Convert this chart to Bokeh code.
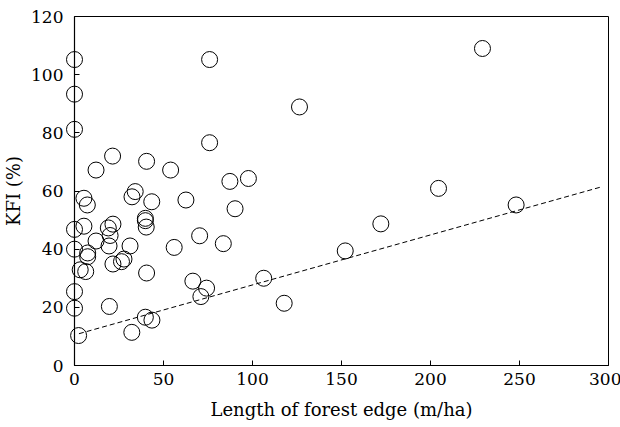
from bokeh.plotting import figure
from bokeh.models import ColumnDataSource, FixedTicker
from bokeh.embed import file_html
from bokeh.resources import INLINE

# Data
edge_length = [0, 0, 0, 75.9, 126.4, 75.9, 21.4, 40.5, 12.1, 54.0,
               87.3, 97.7, 5.3, 7.2, 34.1, 32.3, 43.4, 62.6, 90.2, 229.2,
               204.5, 248.1, 172.1, 152.1, 0, 5.3, 0, 12.1, 7.4, 7.4,
               3.2, 6.3, 0, 0, 2.3, 21.6, 19.0, 20.0, 19.4, 21.6,
               26.4, 27.8, 31.2, 39.8, 39.8, 40.3, 40.5, 19.6, 39.8, 43.5,
               32.2, 56.0, 70.3, 83.6, 66.5, 74.2, 71.0, 106.3, 117.8]
kfi = [105.2, 93.3, 81.2, 105.2, 88.9, 76.6, 72.0, 70.2, 67.2, 67.2,
       63.3, 64.3, 57.5, 55.2, 59.8, 58.0, 56.3, 56.9, 53.9, 109.0,
       60.9, 55.2, 48.7, 39.4, 46.8, 47.9, 40.0, 42.8, 38.7, 37.4,
       32.9, 32.3, 25.4, 19.7, 10.3, 48.6, 47.3, 44.7, 41.1, 34.9,
       35.7, 36.6, 41.1, 50.6, 49.8, 47.6, 31.8, 20.3, 16.6, 15.6,
       11.4, 40.6, 44.6, 41.9, 29.0, 26.6, 23.7, 30.0, 21.4]

fit_intercept = 10.5
fit_slope = 0.172
fit_x = [2.5, 296.5]
fit_y = [fit_intercept + fit_slope * v for v in fit_x]

x_ticks = [0, 50, 100, 150, 200, 250, 300]
y_ticks = [0, 20, 40, 60, 80, 100, 120]

FONT = "DejaVu Serif"

p = figure(output_backend="svg", toolbar_location=None,
           frame_width=534, frame_height=349,
           x_range=(0, 300), y_range=(0, 120),
           min_border_left=72, min_border_right=13, min_border_top=16,
           min_border_bottom=2)

p.background_fill_color = "white"
p.border_fill_color = "white"
p.outline_line_color = "black"
p.outline_line_width = 1
p.grid.visible = False

p.line(fit_x, fit_y, line_color="black", line_width=1, line_dash="5 3")

src = ColumnDataSource(dict(x=edge_length, y=kfi))
r = p.scatter("x", "y", source=src, size=16, marker="circle",
              fill_alpha=0, line_color="black", line_width=1)
r.level = "overlay"

for ax in (p.xaxis[0], p.yaxis[0]):
    ax.axis_line_color = "black"
    ax.axis_line_width = 1.2
    ax.major_tick_in = 5
    ax.major_tick_out = 0
    ax.minor_tick_line_color = None
    ax.major_tick_line_color = "black"
    ax.major_label_text_font = FONT
    ax.major_label_text_font_size = "17px"
    ax.major_label_text_color = "black"
    ax.axis_label_text_font = FONT
    ax.axis_label_text_font_size = "18px"
    ax.axis_label_text_font_style = "normal"
    ax.axis_label_text_color = "black"

p.xaxis[0].ticker = FixedTicker(ticks=x_ticks)
p.yaxis[0].ticker = FixedTicker(ticks=y_ticks)
p.xaxis[0].axis_label = "Length of forest edge (m/ha)"
p.yaxis[0].axis_label = "KFI (%)"
p.xaxis[0].major_label_standoff = 7
p.yaxis[0].major_label_standoff = 11
p.xaxis[0].axis_label_standoff = 11
p.yaxis[0].axis_label_standoff = 4

open("out.html", "w").write(file_html(p, INLINE))
